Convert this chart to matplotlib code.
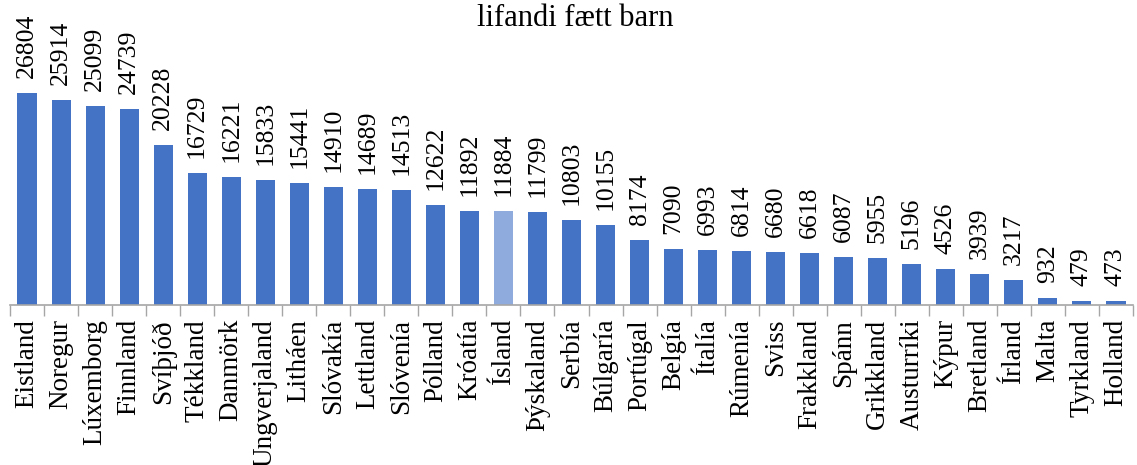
# lifandi fætt barn - súlurit eftir löndum

import matplotlib
matplotlib.use('Agg')
import matplotlib.pyplot as plt
import numpy as np

lond = ['Eistland', 'Noregur', 'Lúxemborg', 'Finnland', 'Svíþjóð', 'Tékkland',
        'Danmörk', 'Ungverjaland', 'Litháen', 'Slóvakía', 'Lettland', 'Slóvenía',
        'Pólland', 'Króatía', 'Ísland', 'Þýskaland', 'Serbía', 'Búlgaría',
        'Portúgal', 'Belgía', 'Ítalía', 'Rúmenía', 'Sviss', 'Frakkland', 'Spánn',
        'Grikkland', 'Austurríki', 'Kýpur', 'Bretland', 'Írland', 'Malta',
        'Tyrkland', 'Holland']
gildi = [26804, 25914, 25099, 24739, 20228, 16729, 16221, 15833, 15441, 14910,
         14689, 14513, 12622, 11892, 11884, 11799, 10803, 10155, 8174, 7090,
         6993, 6814, 6680, 6618, 6087, 5955, 5196, 4526, 3939, 3217, 932, 479, 473]

plt.rcParams['font.family'] = ['Liberation Serif', 'DejaVu Serif']

fig = plt.figure(figsize=(11.37, 4.65), dpi=100)
ax = fig.add_axes([10 / 1137, 1 - 305 / 465, 1123 / 1137, 265 / 465])

x = np.arange(len(lond))
litir = ['#8FAADC' if l == 'Ísland' else '#4472C4' for l in lond]
ax.bar(x, gildi, width=0.56, color=litir)

# gildi ofan á súlum
for xi, v in zip(x, gildi):
    ax.text(xi, v + 1900, str(v), rotation=90, ha='center', va='bottom', fontsize=18.5)

ax.set_xlim(-0.5, len(lond) - 0.5)
ax.set_ylim(0, 33500)

ax.set_xticks(np.arange(len(lond) + 1) - 0.5)
ax.set_xticklabels([])
ax.tick_params(axis='x', which='major', length=8, color='#A6A6A6', width=1)
ax.set_xticks(x, minor=True)
ax.set_xticklabels(lond, minor=True, rotation=90, fontsize=19.5)
ax.tick_params(axis='x', which='minor', length=0, pad=10)

ax.set_yticks([])
for s in ['top', 'right', 'left']:
    ax.spines[s].set_visible(False)
ax.spines['bottom'].set_color('#A6A6A6')
ax.spines['bottom'].set_linewidth(1.2)

fig.text(575 / 1137, 1 - 18 / 465, 'lifandi fætt barn', ha='center', va='center', fontsize=22)

fig.savefig('out.png', dpi=100)
